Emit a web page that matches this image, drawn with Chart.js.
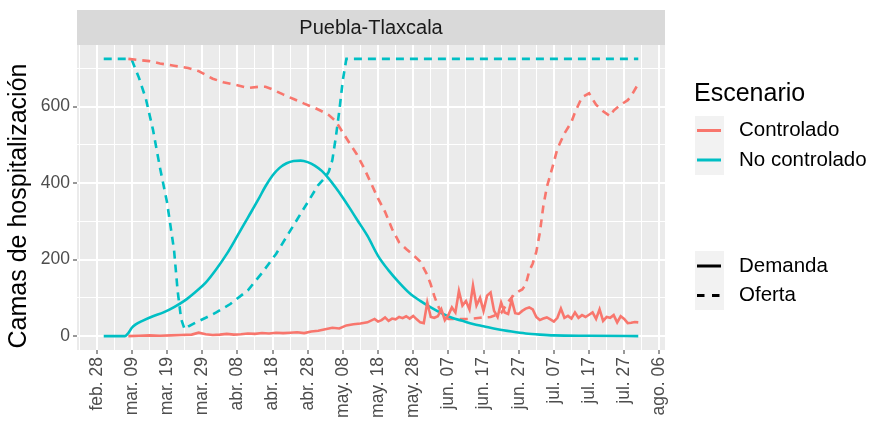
<!DOCTYPE html>
<html>
<head>
<meta charset="utf-8">
<title>Puebla-Tlaxcala</title>
<script src="https://cdn.jsdelivr.net/npm/chart.js@4/dist/chart.umd.min.js"></script>
<style>
  html, body { margin: 0; padding: 0; background: #ffffff; }
  #contenedor { width: 876px; height: 422px; }
</style>
</head>
<body>
<div id="contenedor"><canvas id="grafica" width="876" height="422"></canvas></div>
<script>
// ---- Datos (x = días desde el 28 de febrero) ----
const region = "Puebla-Tlaxcala";
const tituloY = "Camas de hospitalización";
const escenarios = ["Controlado", "No controlado"];
const tipos = ["Demanda", "Oferta"];

const tickDias = [0, 10, 20, 30, 40, 50, 60, 70, 80, 90, 100, 110, 120, 130, 140, 150, 160];
const tickEtiquetas = ["feb. 28", "mar. 09", "mar. 19", "mar. 29", "abr. 08", "abr. 18", "abr. 28",
  "may. 08", "may. 18", "may. 28", "jun. 07", "jun. 17", "jun. 27", "jul. 07", "jul. 17", "jul. 27", "ago. 06"];
const tickDiasMenores = [-5, 5, 15, 25, 35, 45, 55, 65, 75, 85, 95, 105, 115, 125, 135, 145, 155];
const yMayores = [0, 200, 400, 600];
const yMenores = [100, 300, 500, 700];

// Controlado - Demanda
const ctrlDemDias = [9, 12, 15, 18, 21, 24, 27, 29, 31, 33, 35, 37, 39, 41, 43, 45, 47, 49, 51, 53, 55, 57, 59,
  61, 63, 65, 67, 69, 71, 73, 75, 77, 79,
  80, 81, 82, 83, 84, 85, 86, 87, 88, 89, 90, 91, 92, 93, 94, 95, 96, 97, 98, 99,
  100, 101, 102, 103, 104, 105, 106, 107, 108, 109, 110, 111, 112, 113, 114, 115, 116, 117, 118, 119,
  120, 121, 122, 123, 124, 125, 126, 127, 128, 129, 130, 131, 132, 133, 134, 135, 136, 137, 138, 139,
  140, 141, 142, 143, 144, 145, 146, 147, 148, 149, 150, 151, 152, 153, 154];
const ctrlDemValores = [0, 1, 2, 1, 2, 3, 4, 9, 5, 3, 4, 6, 4, 5, 7, 6, 8, 7, 9, 8, 9, 10, 8,
  12, 14, 18, 22, 20, 28, 31, 33, 36, 45,
  38, 42, 49, 40, 46, 44, 50, 47, 52, 46, 53, 44, 36, 34, 88, 50, 48, 52, 70, 42,
  55, 75, 62, 118, 80, 92, 70, 132, 80, 100, 66, 106, 114, 66, 50, 88, 62, 58, 95, 60,
  58, 66, 72, 75, 70, 50, 42, 46, 49, 44, 38, 48, 72, 48, 53, 46, 62, 48, 55, 50,
  56, 62, 45, 70, 40, 50, 48, 55, 36, 52, 45, 34, 35, 37, 36];

// No controlado - Demanda
const ncDemDias = [2, 8, 9, 10, 11, 13, 16, 19, 22, 25, 28, 31, 34, 37, 40, 43, 46, 48, 50, 52, 54, 56, 58, 60,
  62, 64, 66, 68, 70, 72, 74, 77, 80, 83, 86, 89, 92, 95, 98, 101, 104, 107, 110, 114, 118, 122, 126, 130, 140, 154];
const ncDemValores = [0, 0, 8, 22, 30, 40, 52, 62, 76, 93, 115, 140, 175, 215, 262, 310, 358, 392, 420, 440, 452, 458, 459, 455,
  446, 432, 412, 388, 362, 334, 305, 262, 210, 172, 140, 112, 92, 75, 60, 48, 40, 32, 26, 18, 12, 7, 4, 2, 1, 0];

// Controlado - Oferta
const ctrlOfDias = [9, 12, 15, 18, 22, 26, 29, 31, 33, 36, 40, 43, 46, 48, 50, 53, 56, 59, 62, 64,
  66, 68, 70, 72, 74, 76, 78, 80, 82, 84, 86, 88, 90, 92, 94, 95, 96, 97, 98, 100,
  103, 106, 109, 112, 115, 117, 119, 121, 122, 123, 124, 125, 126, 127, 128, 130, 131, 133, 135, 136, 138,
  140, 142, 144, 146, 147, 149, 151, 152, 154];
const ctrlOfValores = [725, 722, 719, 713, 707, 701, 693, 683, 673, 664, 656, 649, 652, 652, 645, 632, 620, 608, 597, 588,
  578, 562, 532, 503, 475, 440, 400, 360, 325, 280, 245, 228, 212, 195, 160, 135, 105, 80, 62, 45,
  45, 45, 48, 50, 60, 90, 112, 122, 135, 170, 190, 220, 270, 340, 390, 455, 490, 530, 560, 585, 625,
  635, 605, 588, 575, 590, 605, 617, 628, 660];

// No controlado - Oferta
const ncOfDias = [2, 9, 10, 12, 14, 16, 18, 20, 22, 23, 24, 25, 26, 28, 31, 34, 38, 43, 47, 51, 54, 57, 60, 63,
  65, 66, 67, 68, 69, 70, 71, 154];
const ncOfValores = [725, 725, 722, 676, 620, 540, 440, 350, 225, 120, 45, 18, 25, 35, 48, 62, 84, 120, 165, 215, 260, 305, 350, 395,
  415, 430, 460, 520, 590, 670, 725, 725];

// ---- Estilo ----
const colores = ["#F8766D", "#00BFC4"];
const fuente = '"Liberation Sans", Arial, sans-serif';
const guiones = [8, 6];

Chart.defaults.font.family = fuente;

function puntos(dias, valores) {
  return dias.map((d, i) => ({ x: d, y: valores[i] }));
}

// Fondo gris del panel, franja con la región y título del eje y
const panel = {
  id: "panel",
  beforeDraw(chart) {
    const { ctx, chartArea: a } = chart;
    ctx.save();
    ctx.fillStyle = "#EBEBEB";
    ctx.fillRect(a.left, a.top, a.right - a.left, a.bottom - a.top);
    ctx.fillStyle = "#D9D9D9";
    ctx.fillRect(a.left, a.top - 35, a.right - a.left, 35);
    ctx.fillStyle = "#1A1A1A";
    ctx.font = "20px " + fuente;
    ctx.textAlign = "center";
    ctx.textBaseline = "middle";
    ctx.fillText(region, (a.left + a.right) / 2, a.top - 17);

    ctx.translate(19, 206);
    ctx.rotate(-Math.PI / 2);
    ctx.fillStyle = "#000000";
    ctx.font = "25px " + fuente;
    ctx.fillText(tituloY, 0, 0);
    ctx.restore();
  }
};

// Leyenda a la derecha: escenario (color) y tipo (línea)
const leyenda = {
  id: "leyenda",
  afterDraw(chart) {
    const { ctx, chartArea: a } = chart;
    const x0 = a.right + 30;
    ctx.save();
    ctx.textBaseline = "middle";
    ctx.textAlign = "left";
    ctx.fillStyle = "#000000";
    ctx.font = "25px " + fuente;
    ctx.fillText("Escenario", x0 - 1, 94);

    ctx.fillStyle = "#F2F2F2";
    ctx.fillRect(x0, 116, 29, 59);
    ctx.fillRect(x0, 251, 29, 59);

    ctx.font = "20.5px " + fuente;
    ctx.lineWidth = 3;
    escenarios.forEach((nombre, i) => {
      const y = 130.5 + i * 29.5;
      ctx.strokeStyle = colores[i];
      ctx.setLineDash([]);
      ctx.beginPath();
      ctx.moveTo(x0 + 2, y);
      ctx.lineTo(x0 + 26, y);
      ctx.stroke();
      ctx.fillStyle = "#000000";
      ctx.fillText(nombre, x0 + 44, y);
    });
    tipos.forEach((nombre, i) => {
      const y = 266 + i * 29.5;
      ctx.strokeStyle = "#000000";
      ctx.setLineDash(i === 0 ? [] : [7.5, 7.5]);
      ctx.beginPath();
      ctx.moveTo(x0 + 2, y);
      ctx.lineTo(x0 + 26, y);
      ctx.stroke();
      ctx.fillStyle = "#000000";
      ctx.fillText(nombre, x0 + 44, y);
    });
    ctx.restore();
  }
};

const grafica = new Chart(document.getElementById("grafica"), {
  type: "line",
  data: {
    datasets: [
      {
        label: escenarios[0] + " - " + tipos[0],
        data: puntos(ctrlDemDias, ctrlDemValores),
        borderColor: colores[0],
        borderWidth: 2.6
      },
      {
        label: escenarios[1] + " - " + tipos[0],
        data: puntos(ncDemDias, ncDemValores),
        borderColor: colores[1],
        borderWidth: 2.6,
        cubicInterpolationMode: "monotone"
      },
      {
        label: escenarios[0] + " - " + tipos[1],
        data: puntos(ctrlOfDias, ctrlOfValores),
        borderColor: colores[0],
        borderWidth: 2.6,
        borderDash: guiones
      },
      {
        label: escenarios[1] + " - " + tipos[1],
        data: puntos(ncOfDias, ncOfValores),
        borderColor: colores[1],
        borderWidth: 2.6,
        borderDash: guiones
      }
    ]
  },
  options: {
    responsive: false,
    animation: false,
    devicePixelRatio: 1,
    elements: { point: { radius: 0 }, line: { tension: 0, borderCapStyle: "butt" } },
    layout: { padding: { top: 45, right: 211, left: 0, bottom: 0 } },
    plugins: { legend: { display: false }, tooltip: { enabled: false } },
    scales: {
      x: {
        type: "linear",
        min: -5.6,
        max: 161.6,
        afterBuildTicks: s => {
          s.ticks = tickDias.concat(tickDiasMenores).sort((p, q) => p - q).map(v => ({ value: v }));
        },
        afterFit: s => { s.height = 72; },
        ticks: {
          autoSkip: false,
          minRotation: 90,
          maxRotation: 90,
          padding: 3,
          color: "#4D4D4D",
          font: { size: 17.5 },
          callback: v => {
            const i = tickDias.indexOf(v);
            return i >= 0 ? tickEtiquetas[i] : "";
          }
        },
        grid: {
          color: "#FFFFFF",
          lineWidth: c => tickDias.includes(c.tick.value) ? 2 : 1,
          tickLength: 4,
          tickWidth: 1,
          tickColor: c => tickDias.includes(c.tick.value) ? "#333333" : "rgba(0,0,0,0)"
        },
        border: { display: false }
      },
      y: {
        min: -36.25,
        max: 761.25,
        afterBuildTicks: s => {
          s.ticks = yMayores.concat(yMenores).sort((p, q) => p - q).map(v => ({ value: v }));
        },
        afterFit: s => { s.width = 77; },
        ticks: {
          padding: 3,
          color: "#4D4D4D",
          font: { size: 17.5 },
          callback: v => yMayores.includes(v) ? String(v) : ""
        },
        grid: {
          color: "#FFFFFF",
          lineWidth: c => yMayores.includes(c.tick.value) ? 2 : 1,
          tickLength: 4,
          tickWidth: 1,
          tickColor: c => yMayores.includes(c.tick.value) ? "#333333" : "rgba(0,0,0,0)"
        },
        border: { display: false }
      }
    }
  },
  plugins: [panel, leyenda]
});
</script>
</body>
</html>
